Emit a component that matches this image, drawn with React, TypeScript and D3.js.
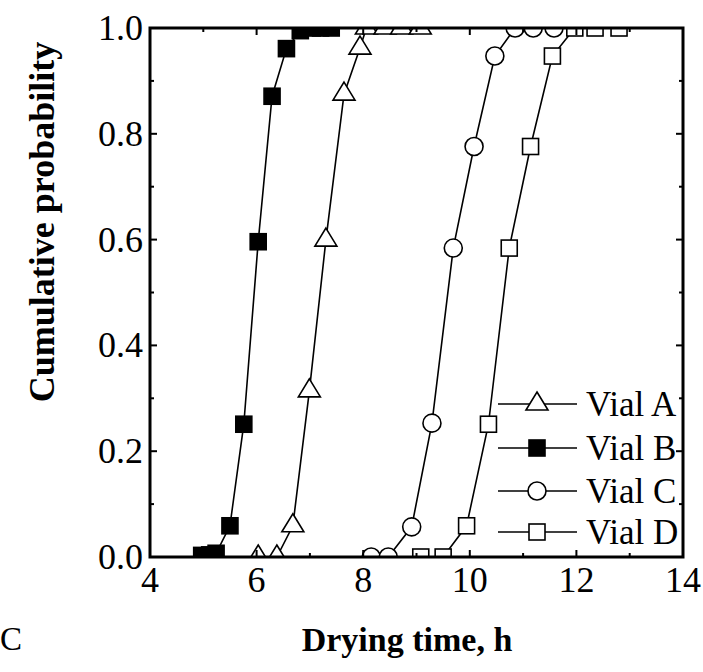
import React from 'react';
import * as d3 from 'd3';

// drying time (h) and cumulative probability
const vialAx = [6.03, 6.38, 6.68, 6.99, 7.3, 7.64, 7.94, 8.06, 8.41, 8.72, 9.07];
const vialAp = [0, 0, 0.059, 0.314, 0.599, 0.875, 0.962, 1, 1, 1, 1];

const vialBx = [4.97, 5.12, 5.24, 5.5, 5.76, 6.03, 6.29, 6.56, 6.82, 7.05, 7.2, 7.4];
const vialBp = [0.003, 0.004, 0.007, 0.059, 0.251, 0.596, 0.871, 0.961, 0.995, 1, 1, 1];

const vialCx = [8.15, 8.47, 8.91, 9.29, 9.69, 10.08, 10.47, 10.85, 11.19, 11.58];
const vialCp = [0, 0, 0.057, 0.253, 0.584, 0.776, 0.947, 1, 1, 1];

const vialDx = [9.08, 9.5, 9.94, 10.35, 10.74, 11.14, 11.55, 11.97, 12.35, 12.8];
const vialDp = [0, 0, 0.059, 0.251, 0.584, 0.776, 0.947, 1, 1, 1];

const xMajor = [4, 6, 8, 10, 12, 14];
const xMinor = [5, 7, 9, 11, 13];
const yMajor = [0, 0.2, 0.4, 0.6, 0.8, 1.0];
const yMinor = [0.1, 0.3, 0.5, 0.7, 0.9];

const seriesNames = ['Vial A', 'Vial B', 'Vial C', 'Vial D'];
const seriesShapes = ['triangle', 'filledSquare', 'circle', 'square'];

const FONT = '"Liberation Serif", "Times New Roman", serif';

function Marker({ shape, x, y }: { shape: string; x: number; y: number }) {
  if (shape === 'triangle') {
    const w = 22;
    const h = 18;
    const d = `M${x},${y - (2 * h) / 3}L${x + w / 2},${y + h / 3}L${x - w / 2},${y + h / 3}Z`;
    return <path d={d} fill="#fff" stroke="#000" strokeWidth={1.6} />;
  }
  if (shape === 'circle') {
    return <circle cx={x} cy={y} r={9} fill="#fff" stroke="#000" strokeWidth={1.6} />;
  }
  const s = 16;
  return (
    <rect
      x={x - s / 2}
      y={y - s / 2}
      width={s}
      height={s}
      fill={shape === 'filledSquare' ? '#000' : '#fff'}
      stroke="#000"
      strokeWidth={1.6}
    />
  );
}

export default function App() {
  const width = 703;
  const height = 672;
  const margin = { left: 150, right: 20, top: 28, bottom: 115 };
  const x0 = margin.left;
  const x1 = width - margin.right;
  const y0 = height - margin.bottom;
  const y1 = margin.top;

  const xScale = d3.scaleLinear().domain([4, 14]).range([x0, x1]);
  const yScale = d3.scaleLinear().domain([0, 1]).range([y0, y1]);

  const series = [
    { xs: vialAx, ps: vialAp },
    { xs: vialBx, ps: vialBp },
    { xs: vialCx, ps: vialCp },
    { xs: vialDx, ps: vialDp },
  ].map((s, i) => ({
    name: seriesNames[i],
    shape: seriesShapes[i],
    pts: s.xs.map((v, j) => [v, s.ps[j]] as [number, number]),
  }));

  const line = d3
    .line<[number, number]>()
    .x((d) => xScale(d[0]))
    .y((d) => yScale(d[1]));

  const legendRows = [404, 448, 491, 532];

  return (
    <svg
      width={width}
      height={height}
      style={{ position: 'absolute', left: 0, top: 0, background: '#fff' }}
      fontFamily={FONT}
    >
      <defs>
        <clipPath id="plot">
          <rect x={x0} y={y1} width={x1 - x0} height={y0 - y1} />
        </clipPath>
      </defs>

      <g clipPath="url(#plot)">
        {series.map((s) => (
          <g key={s.name}>
            <path d={line(s.pts) || ''} fill="none" stroke="#000" strokeWidth={1.6} />
            {s.pts.map((d, j) => (
              <Marker key={j} shape={s.shape} x={xScale(d[0])} y={yScale(d[1])} />
            ))}
          </g>
        ))}
      </g>

      {/* legend */}
      {series.map((s, i) => (
        <g key={s.name}>
          <line x1={498} x2={577} y1={legendRows[i]} y2={legendRows[i]} stroke="#000" strokeWidth={1.6} />
          <Marker shape={s.shape} x={537} y={legendRows[i]} />
          <text x={586} y={legendRows[i] + 12} fontSize={35}>
            {s.name}
          </text>
        </g>
      ))}

      {/* ticks, inward on all four sides */}
      <g stroke="#000" strokeWidth={2}>
        {xMajor.map((t) => (
          <g key={'xM' + t}>
            <line x1={xScale(t)} x2={xScale(t)} y1={y0} y2={y0 - 7} />
            <line x1={xScale(t)} x2={xScale(t)} y1={y1} y2={y1 + 7} />
          </g>
        ))}
        {xMinor.map((t) => (
          <g key={'xm' + t}>
            <line x1={xScale(t)} x2={xScale(t)} y1={y0} y2={y0 - 4} />
            <line x1={xScale(t)} x2={xScale(t)} y1={y1} y2={y1 + 4} />
          </g>
        ))}
        {yMajor.map((t) => (
          <g key={'yM' + t}>
            <line x1={x0} x2={x0 + 7} y1={yScale(t)} y2={yScale(t)} />
            <line x1={x1} x2={x1 - 7} y1={yScale(t)} y2={yScale(t)} />
          </g>
        ))}
        {yMinor.map((t) => (
          <g key={'ym' + t}>
            <line x1={x0} x2={x0 + 4} y1={yScale(t)} y2={yScale(t)} />
            <line x1={x1} x2={x1 - 4} y1={yScale(t)} y2={yScale(t)} />
          </g>
        ))}
      </g>

      <rect x={x0} y={y1} width={x1 - x0} height={y0 - y1} fill="none" stroke="#000" strokeWidth={3} />

      {/* tick labels */}
      {xMajor.map((t) => (
        <text key={'xl' + t} x={xScale(t)} y={y0 + 35} fontSize={36} textAnchor="middle">
          {t}
        </text>
      ))}
      {yMajor.map((t) => (
        <text key={'yl' + t} x={x0 - 7} y={yScale(t) + 12} fontSize={36} textAnchor="end">
          {d3.format('.1f')(t)}
        </text>
      ))}

      {/* axis titles */}
      <text x={407} y={651} fontSize={34} fontWeight="bold" textAnchor="middle">
        Drying time, h
      </text>
      <text
        transform="translate(54,222) rotate(-90)"
        fontSize={36}
        fontWeight="bold"
        textAnchor="middle"
      >
        Cumulative probability
      </text>
      <text x={0} y={650} fontSize={33}>
        C
      </text>
    </svg>
  );
}
